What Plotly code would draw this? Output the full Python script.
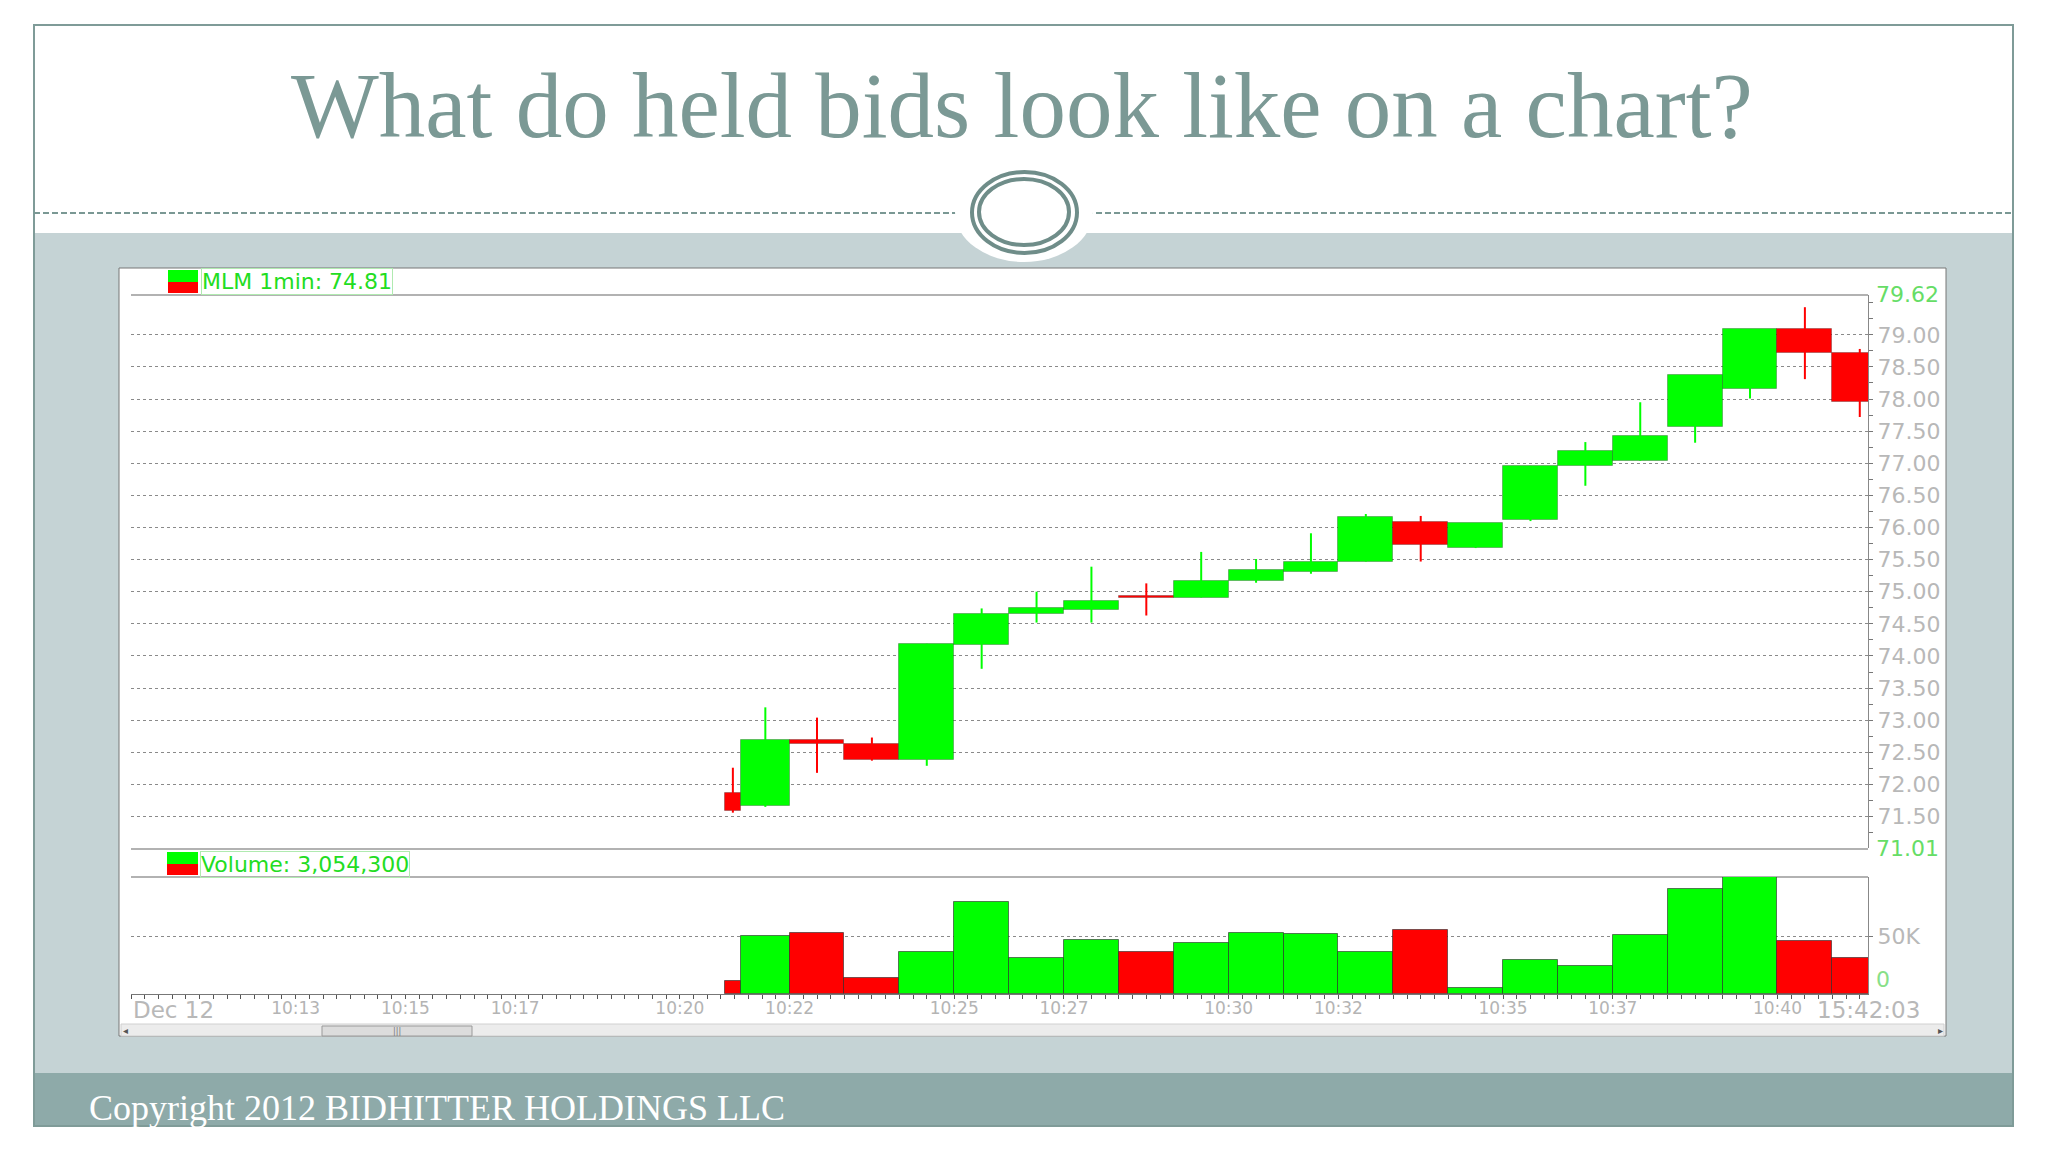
import plotly.graph_objects as go
from datetime import datetime

# ---------------- data ----------------
DAY = "2012-12-12"
bar_start = ["10:20:49", "10:21:07", "10:22:00", "10:23:00", "10:24:00", "10:25:00",
             "10:26:00", "10:27:00", "10:28:00", "10:29:00", "10:30:00", "10:31:00",
             "10:32:00", "10:33:00", "10:34:00", "10:35:00", "10:36:00", "10:37:00",
             "10:38:00", "10:39:00", "10:40:00", "10:41:00"]
last_bar_end = "10:42:00"
opens = [71.87, 71.67, 72.69, 72.63, 72.38, 74.17, 74.66, 74.72, 74.94, 74.91, 75.16,
         75.31, 75.47, 76.08, 75.68, 76.11, 76.96, 77.04, 77.56, 78.15, 79.09, 78.71]
highs = [72.26, 73.20, 73.04, 72.73, 74.19, 74.74, 75.00, 75.39, 75.13, 75.62, 75.51,
         75.91, 76.21, 76.18, 76.07, 76.96, 77.33, 77.95, 78.37, 79.09, 79.43, 78.78]
lows = [71.56, 71.65, 72.18, 72.37, 72.29, 73.80, 74.52, 74.52, 74.63, 74.91, 75.14,
        75.28, 75.47, 75.47, 75.68, 76.10, 76.65, 77.04, 77.32, 78.01, 78.31, 77.72]
closes = [71.58, 72.69, 72.63, 72.38, 74.19, 74.65, 74.74, 74.86, 74.91, 75.17, 75.34,
          75.47, 76.16, 75.73, 76.07, 76.96, 77.19, 77.43, 78.37, 79.09, 78.71, 77.95]
volumes = [11000, 50000, 53000, 14000, 36000, 79000, 31000, 47000, 36000, 44000, 53000,
           52000, 36000, 55000, 5000, 29000, 24000, 51000, 91000, 101000, 46000, 31000]

time_ticks = ["10:13", "10:15", "10:17", "10:20", "10:22", "10:25", "10:27",
              "10:30", "10:32", "10:35", "10:37", "10:40"]
price_ticks = [71.5, 72.0, 72.5, 73.0, 73.5, 74.0, 74.5, 75.0, 75.5, 76.0, 76.5,
               77.0, 77.5, 78.0, 78.5, 79.0]
price_min, price_max = 71.01, 79.62
vol_max = 101000
x_from, x_to = "10:10:00", "10:41:39"
title = "What do held bids look like on a chart?"
price_legend = "MLM 1min: 74.81"
volume_legend = "Volume: 3,054,300"
date_label = "Dec 12"
clock_label = "15:42:03"
footer = "Copyright 2012 BIDHITTER HOLDINGS LLC"

# ---------------- helpers ----------------
# the page body has an 8px margin; the figure is sized so it fits the window
OFF = 8
W, H = 2048 - 2 * OFF, 1152 - 2 * OFF
def px(x): return (x - OFF) / W
def py(y): return 1 - (y - OFF) / H
def t(s):
    fmt = "%Y-%m-%d %H:%M:%S" if s.count(":") == 2 else "%Y-%m-%d %H:%M"
    return datetime.strptime(f"{DAY} {s}", fmt)

GREEN, RED = "#00ff00", "#ff0000"
starts = [t(s) for s in bar_start]
ends = starts[1:] + [t(last_bar_end)]
widths = [(e - s).total_seconds() * 1000 for s, e in zip(starts, ends)]
centers = [s + (e - s) / 2 for s, e in zip(starts, ends)]
colors = [GREEN if c >= o else RED for o, c in zip(opens, closes)]

fig = go.Figure()

# candle bodies
fig.add_trace(go.Bar(
    x=starts, y=[abs(c - o) for o, c in zip(opens, closes)],
    base=[min(o, c) for o, c in zip(opens, closes)],
    width=widths, offset=0, marker_color=colors,
    marker_line=dict(color="rgba(0,0,0,0.25)", width=1),
    xaxis="x", yaxis="y", showlegend=False, hoverinfo="skip"))

# wicks
for col in (GREEN, RED):
    wx, wy = [], []
    for cx, lo, hi, c in zip(centers, lows, highs, colors):
        if c == col:
            wx += [cx, cx, None]
            wy += [lo, hi, None]
    fig.add_trace(go.Scatter(x=wx, y=wy, mode="lines", line=dict(color=col, width=2),
                             xaxis="x", yaxis="y", showlegend=False, hoverinfo="skip"))

# volume bars
fig.add_trace(go.Bar(
    x=starts, y=volumes, width=widths, offset=0, marker_color=colors,
    marker_line=dict(color="rgba(40,40,40,0.6)", width=1),
    xaxis="x2", yaxis="y2", showlegend=False, hoverinfo="skip"))

LABEL_FONT = dict(family="DejaVu Sans", size=22, color="#b8b8b8")

fig.update_layout(
    width=W, height=H, margin=dict(l=0, r=0, t=0, b=0),
    paper_bgcolor="white", plot_bgcolor="rgba(0,0,0,0)",
    bargap=0,
    xaxis=dict(domain=[px(131), px(1868)], type="date", range=[t(x_from), t(x_to)],
               showticklabels=False, showgrid=False, showline=False, zeroline=False,
               anchor="y"),
    yaxis=dict(domain=[py(848), py(295)], range=[price_min, price_max], side="right",
               anchor="x", tickmode="array", tickvals=price_ticks,
               ticktext=[f"{v:.2f}" for v in price_ticks], tickfont=LABEL_FONT,
               ticks="outside", ticklen=4, tickcolor="#777",
               minor=dict(dtick=0.25, tick0=71.0, ticks="outside", ticklen=4, tickcolor="#777"),
               showline=True, linecolor="#888", linewidth=1,
               showgrid=True, gridcolor="#8a8a8a", gridwidth=1, griddash="3px,3px",
               zeroline=False),
    xaxis2=dict(domain=[px(131), px(1868)], type="date", range=[t(x_from), t(x_to)],
                anchor="y2", tickmode="array", tickvals=[t(s) for s in time_ticks],
                ticktext=time_ticks, tickfont=dict(family="DejaVu Sans", size=17, color="#b4b4b4"),
                ticks="outside", ticklen=4, tickcolor="#555", ticklabelstandoff=-5,
                minor=dict(dtick=15000, ticks="outside", ticklen=4, tickcolor="#555"),
                showline=True, linecolor="#777", linewidth=1, showgrid=False, zeroline=False),
    yaxis2=dict(domain=[py(994), py(877)], range=[0, vol_max], side="right", anchor="x2",
                tickmode="array", tickvals=[50000], ticktext=["50K"], tickfont=LABEL_FONT,
                ticks="outside", ticklen=4, tickcolor="#777",
                showline=True, linecolor="#888", linewidth=1,
                showgrid=True, gridcolor="#8a8a8a", gridwidth=1, griddash="3px,3px",
                zeroline=False),
)

shapes = []
def rect(x0, y0, x1, y1, fill=None, line=None, lw=0, kind="rect", dash=None):
    d = dict(type=kind, xref="paper", yref="paper", x0=px(x0), x1=px(x1), y0=py(y1), y1=py(y0),
             layer="below", line=dict(width=lw, color=line or "rgba(0,0,0,0)"))
    if dash: d["line"]["dash"] = dash
    if fill: d["fillcolor"] = fill
    shapes.append(d)
def hline(x0, x1, y, color, lw=1, dash=None):
    d = dict(type="line", xref="paper", yref="paper", x0=px(x0), x1=px(x1), y0=py(y), y1=py(y),
             layer="below", line=dict(color=color, width=lw))
    if dash: d["line"]["dash"] = dash
    shapes.append(d)

# slide frame
rect(34, 25, 2013, 1126, fill="white", line="#7f9b98", lw=2)
hline(34, 2013, 213, "#7a9894", lw=2, dash="6px,3px")
rect(35, 233, 2012, 1073, fill="#c5d3d5")
rect(35, 1073, 2012, 1125, fill="#8eaaa9")
rect(955, 162, 1093, 262, fill="white", kind="circle")
rect(972, 172, 1077, 253, line="#6f8d89", lw=4, kind="circle")
rect(979, 179, 1069, 245, line="#6f8d89", lw=4, kind="circle")
# chart panel
rect(119, 268, 1946, 1036, fill="white", line="#777", lw=1)
hline(131, 1868, 295, "#999", lw=1.5)
hline(131, 1868, 849, "#999", lw=1.5)
hline(131, 1868, 877, "#999", lw=1.5)
# legend swatches
rect(168, 270, 198, 282, fill=GREEN)
rect(168, 282, 198, 293, fill=RED)
rect(167, 852, 198, 864, fill=GREEN)
rect(167, 864, 198, 875, fill=RED)
# scrollbar
rect(121, 1024, 1944, 1036, fill="#ececec", line="#d0d0d0", lw=1)
rect(322, 1026, 472, 1036, fill="#dcdcdc", line="#9a9a9a", lw=1)
fig.update_layout(shapes=shapes)

ann = []
def text(x, y, s, size, color, family="DejaVu Sans", xanchor="left", yanchor="middle",
         xref="paper", yref="paper", **kw):
    ann.append(dict(x=x, y=y, xref=xref, yref=yref, text=s, showarrow=False,
                    xanchor=xanchor, yanchor=yanchor,
                    font=dict(family=family, size=size, color=color), **kw))

text(px(1022), py(106), title, 93, "#7b9995", family="Liberation Serif", xanchor="center")
text(px(87), py(1108), footer, 36, "white", family="Liberation Serif")
text(px(201), py(282), price_legend, 22, "#22dd22", bordercolor="#b0eab0", borderwidth=1, borderpad=0)
text(px(200), py(864), volume_legend, 22, "#22dd22", bordercolor="#b0eab0", borderwidth=1, borderpad=0)
text(px(1874), price_max, f"{price_max:.2f}", 22, "#66dd66", yref="y")
text(px(1874), price_min, f"{price_min:.2f}", 22, "#66dd66", yref="y")
text(px(1874), 0, "0", 22, "#88e088", yref="y2", yanchor="bottom")
text(t(x_from), py(1010), date_label, 23, "#b8b8b8", xref="x2")
text(px(1868), py(1010), clock_label, 23, "#b8b8b8", xanchor="center")
text(px(397), py(1031), "|||", 8, "#777", xanchor="center")
text(px(125), py(1030), "◂", 10, "#555", xanchor="center")
text(px(1940), py(1030), "▸", 10, "#555", xanchor="center")
fig.update_layout(annotations=ann)

fig.write_html("out.html")
